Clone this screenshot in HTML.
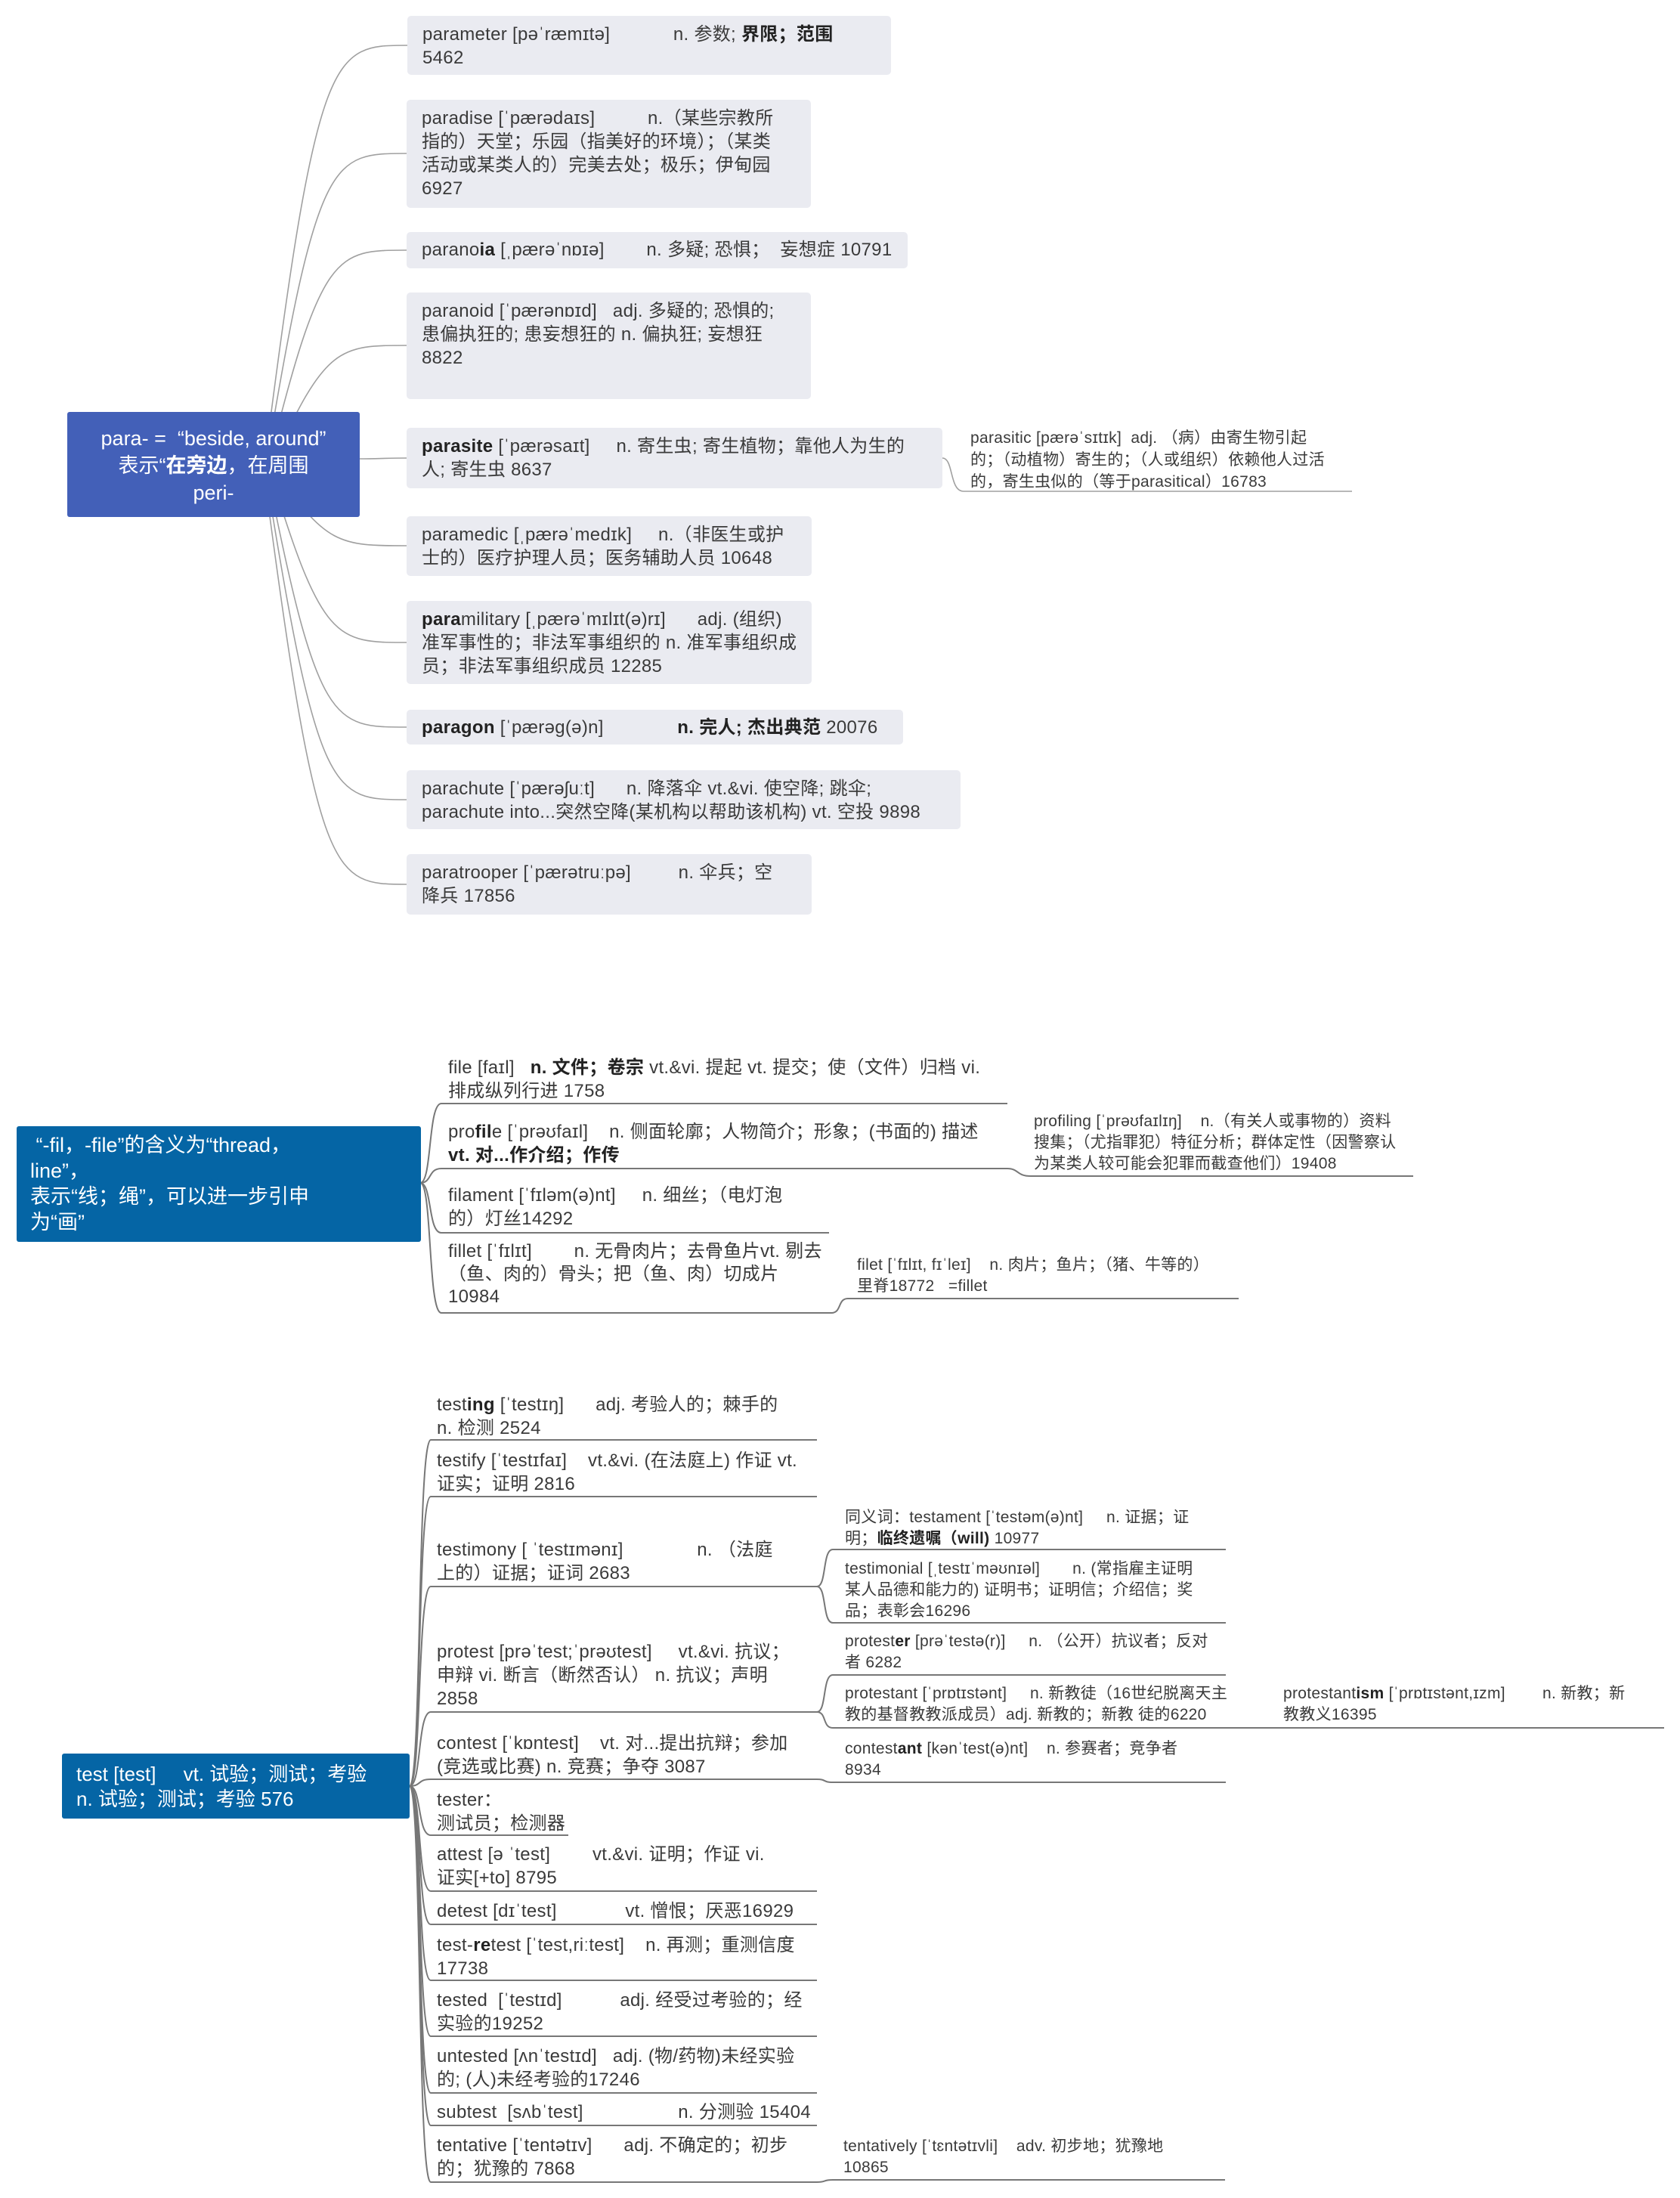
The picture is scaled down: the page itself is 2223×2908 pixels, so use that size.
<!DOCTYPE html>
<html><head><meta charset="utf-8">
<style>
html,body{margin:0;padding:0;background:#fff;}
body{width:2223px;height:2908px;position:relative;overflow:hidden;font-family:"Liberation Sans","Noto Sans CJK SC",sans-serif;color:#3a3a3a;}
.box{position:absolute;background:#eaebf1;border-radius:5px;box-sizing:border-box;padding:9px 0 0 20px;font-size:24px;line-height:31px;white-space:pre;letter-spacing:0.3px;}
.t{position:absolute;font-size:24px;line-height:31px;white-space:pre;letter-spacing:0.3px;}
.s{position:absolute;font-size:21px;line-height:28px;white-space:pre;letter-spacing:0.3px;}
.root{position:absolute;color:#fff;border-radius:3px;box-sizing:border-box;white-space:pre;}
svg{position:absolute;left:0;top:0;}
b{font-weight:bold;color:#222;}
</style></head><body>
<svg width="2223" height="2908" fill="none">
<g stroke="#a0a0a0" stroke-width="1.6">
<path d="M350 615 C420 60,440 60,539 60"/>
<path d="M352 615 C420 203,440 203,538 203"/>
<path d="M355 615 C425 331,445 331,538 331"/>
<path d="M360 615 C430 457,450 457,538 457"/>
<path d="M476 607 C500 607,510 606,538 606"/>
<path d="M360 615 C430 722,450 722,538 722"/>
<path d="M355 615 C425 850,445 850,538 850"/>
<path d="M352 615 C420 962,440 962,538 962"/>
<path d="M350 615 C420 1058,440 1058,538 1058"/>
<path d="M348 615 C420 1170,440 1170,538 1170"/>
<path d="M1247 606 C1262 606,1256 650,1275 650 L1789 650"/>
</g>
<g stroke="#777" stroke-width="2">
<path d="M556 1565 C572 1565,566 1460,584 1460 L1333 1460"/>
<path d="M556 1565 C572 1565,566 1546,584 1546 L1333 1546 C1348 1546,1345 1556,1364 1556 L1870 1556"/>
<path d="M556 1565 C572 1565,566 1631,584 1631 L1097 1631"/>
<path d="M556 1565 C572 1565,566 1737,584 1737 L1100 1737 C1114 1737,1108 1718,1122 1718 L1639 1718"/>
<path d="M542 2363 C558 2363,552 1905,570 1905 L1081 1905"/>
<path d="M542 2363 C558 2363,552 1980,570 1980 L1081 1980"/>
<path d="M542 2363 C558 2363,552 2099,570 2099 L1081 2099"/>
<path d="M542 2363 C558 2363,552 2265,570 2265 L1081 2265"/>
<path d="M542 2363 C558 2363,552 2354,570 2354 L1081 2354"/>
<path d="M542 2363 C558 2363,552 2428,570 2428 L752 2428"/>
<path d="M542 2363 C558 2363,552 2502,570 2502 L1081 2502"/>
<path d="M542 2363 C558 2363,552 2546,570 2546 L1081 2546"/>
<path d="M542 2363 C558 2363,552 2620,570 2620 L1081 2620"/>
<path d="M542 2363 C558 2363,552 2694,570 2694 L1081 2694"/>
<path d="M542 2363 C558 2363,552 2769,570 2769 L1081 2769"/>
<path d="M542 2363 C558 2363,552 2812,570 2812 L1081 2812"/>
<path d="M542 2363 C558 2363,552 2887,570 2887 L1081 2887"/>
<path d="M1081 2099 C1094 2099,1088 2050,1102 2050 L1622 2050"/>
<path d="M1081 2099 C1094 2099,1088 2147,1102 2147 L1622 2147"/>
<path d="M1081 2265 C1094 2265,1088 2216,1102 2216 L1622 2216"/>
<path d="M1081 2265 C1094 2265,1088 2286,1102 2286 L2202 2286"/>
<path d="M1081 2354 C1094 2354,1088 2358,1102 2358 L1622 2358"/>
<path d="M1081 2887 C1094 2887,1088 2884,1102 2884 L1621 2884"/>
</g>
</svg>

<div class="root" style="left:89px;top:545px;width:387px;height:139px;background:#4360b8;font-size:27px;line-height:36px;text-align:center;padding-top:17px;">para- =  “beside, around”
表示“<b style="color:#fff">在旁边</b>，在周围
peri-</div>

<div class="box" style="left:539px;top:21px;width:640px;height:78px;">parameter [pəˈræmɪtə]            n. 参数; <b>界限；范围</b>
5462</div>
<div class="box" style="left:538px;top:132px;width:535px;height:143px;">paradise [ˈpærədaɪs]          n.（某些宗教所
指的）天堂；乐园（指美好的环境）；（某类
活动或某类人的）完美去处；极乐；伊甸园
6927</div>
<div class="box" style="left:538px;top:307px;width:663px;height:48px;padding-top:8px;">parano<b>ia</b> [ˌpærəˈnɒɪə]        n. 多疑; 恐惧；  妄想症 10791</div>
<div class="box" style="left:538px;top:387px;width:535px;height:141px;">paranoid [ˈpærənɒɪd]   adj. 多疑的; 恐惧的;
患偏执狂的; 患妄想狂的 n. 偏执狂; 妄想狂
8822</div>
<div class="box" style="left:538px;top:566px;width:709px;height:80px;"><b>parasite</b> [ˈpærəsaɪt]     n. 寄生虫; 寄生植物；靠他人为生的
人; 寄生虫 8637</div>
<div class="s" style="left:1284px;top:565px;line-height:29px;">parasitic [pærəˈsɪtɪk]  adj. （病）由寄生物引起
的；（动植物）寄生的；（人或组织）依赖他人过活
的，寄生虫似的（等于parasitical）16783</div>
<div class="box" style="left:538px;top:683px;width:536px;height:79px;">paramedic [ˌpærəˈmedɪk]     n.（非医生或护
士的）医疗护理人员；医务辅助人员 10648</div>
<div class="box" style="left:538px;top:795px;width:536px;height:110px;"><b>para</b>military [ˌpærəˈmɪlɪt(ə)rɪ]      adj. (组织)
准军事性的；非法军事组织的 n. 准军事组织成
员；非法军事组织成员 12285</div>
<div class="box" style="left:538px;top:939px;width:657px;height:46px;padding-top:8px;"><b>paragon</b> [ˈpærəg(ə)n]              <b>n. 完人; 杰出典范</b> 20076</div>
<div class="box" style="left:538px;top:1019px;width:733px;height:78px;">parachute [ˈpærəʃuːt]      n. 降落伞 vt.&amp;vi. 使空降; 跳伞;
parachute into...突然空降(某机构以帮助该机构) vt. 空投 9898</div>
<div class="box" style="left:538px;top:1130px;width:536px;height:80px;">paratrooper [ˈpærətruːpə]         n. 伞兵；空
降兵 17856</div>

<div class="root" style="left:22px;top:1490px;width:535px;height:153px;background:#0565a5;font-size:27px;line-height:34px;padding:8px 0 0 18px;"> “-fil，-file”的含义为“thread，
line”，
表示“线；绳”，可以进一步引申
为“画”</div>

<div class="t" style="left:593px;top:1397px;">file [faɪl]   <b>n. 文件；卷宗</b> vt.&amp;vi. 提起 vt. 提交；使（文件）归档 vi.
排成纵列行进 1758</div>
<div class="t" style="left:593px;top:1482px;">pro<b>fil</b>e [ˈprəʊfaɪl]    n. 侧面轮廓；人物简介；形象；(书面的) 描述
<b>vt. 对...作介绍；作传</b></div>
<div class="s" style="left:1368px;top:1470px;">profiling [ˈprəʊfaɪlɪŋ]    n.（有关人或事物的）资料
搜集；（尤指罪犯）特征分析；群体定性（因警察认
为某类人较可能会犯罪而截查他们）19408</div>
<div class="t" style="left:593px;top:1566px;">filament [ˈfɪləm(ə)nt]     n. 细丝；（电灯泡
的）灯丝14292</div>
<div class="t" style="left:593px;top:1641px;line-height:30px;">fillet [ˈfɪlɪt]        n. 无骨肉片；去骨鱼片vt. 剔去
（鱼、肉的）骨头；把（鱼、肉）切成片
10984</div>
<div class="s" style="left:1134px;top:1660px;">filet [ˈfɪlɪt, fɪˈleɪ]    n. 肉片；鱼片；（猪、牛等的）
里脊18772   =fillet</div>

<div class="root" style="left:82px;top:2320px;width:460px;height:86px;background:#0565a5;font-size:26px;line-height:33px;padding:11px 0 0 19px;">test [test]     vt. 试验；测试；考验
n. 试验；测试；考验 576</div>

<div class="t" style="left:578px;top:1843px;">test<b>ing</b> [ˈtestɪŋ]      adj. 考验人的；棘手的
n. 检测 2524</div>
<div class="t" style="left:578px;top:1917px;">testify [ˈtestɪfaɪ]    vt.&amp;vi. (在法庭上) 作证 vt.
证实；证明 2816</div>
<div class="t" style="left:578px;top:2035px;">testimony [ ˈtestɪmənɪ]              n. （法庭
上的）证据；证词 2683</div>
<div class="t" style="left:578px;top:2170px;">protest [prəˈtest;ˈprəʊtest]     vt.&amp;vi. 抗议；
申辩 vi. 断言（断然否认） n. 抗议；声明
2858</div>
<div class="t" style="left:578px;top:2291px;">contest [ˈkɒntest]    vt. 对...提出抗辩；参加
(竞选或比赛) n. 竞赛；争夺 3087</div>
<div class="t" style="left:578px;top:2366px;">tester：
测试员；检测器</div>
<div class="t" style="left:578px;top:2438px;">attest [ə ˈtest]        vt.&amp;vi. 证明；作证 vi.
证实[+to] 8795</div>
<div class="t" style="left:578px;top:2513px;">detest [dɪˈtest]             vt. 憎恨；厌恶16929</div>
<div class="t" style="left:578px;top:2558px;">test-<b>re</b>test [ˈtest,riːtest]    n. 再测；重测信度
17738</div>
<div class="t" style="left:578px;top:2631px;">tested  [ˈtestɪd]           adj. 经受过考验的；经
实验的19252</div>
<div class="t" style="left:578px;top:2705px;">untested [ʌnˈtestɪd]   adj. (物/药物)未经实验
的; (人)未经考验的17246</div>
<div class="t" style="left:578px;top:2779px;">subtest  [sʌbˈtest]                  n. 分测验 15404</div>
<div class="t" style="left:578px;top:2823px;">tentative [ˈtentətɪv]      adj. 不确定的；初步
的；犹豫的 7868</div>

<div class="s" style="left:1118px;top:1994px;">同义词：testament [ˈtestəm(ə)nt]     n. 证据；证
明；<b>临终遗嘱（will)</b> 10977</div>
<div class="s" style="left:1118px;top:2062px;">testimonial [ˌtestɪˈməʊnɪəl]       n. (常指雇主证明
某人品德和能力的) 证明书；证明信；介绍信；奖
品；表彰会16296</div>
<div class="s" style="left:1118px;top:2158px;">protest<b>er</b> [prəˈtestə(r)]     n. （公开）抗议者；反对
者 6282</div>
<div class="s" style="left:1118px;top:2227px;">protestant [ˈprɒtɪstənt]     n. 新教徒（16世纪脱离天主
教的基督教教派成员）adj. 新教的；新教 徒的6220</div>
<div class="s" style="left:1698px;top:2227px;">protestant<b>ism</b> [ˈprɒtɪstənt,ɪzm]        n. 新教；新
教教义16395</div>
<div class="s" style="left:1118px;top:2300px;">contest<b>ant</b> [kənˈtest(ə)nt]    n. 参赛者；竞争者
8934</div>
<div class="s" style="left:1116px;top:2826px;">tentatively [ˈtɛntətɪvli]    adv. 初步地；犹豫地
10865</div>
</body></html>
